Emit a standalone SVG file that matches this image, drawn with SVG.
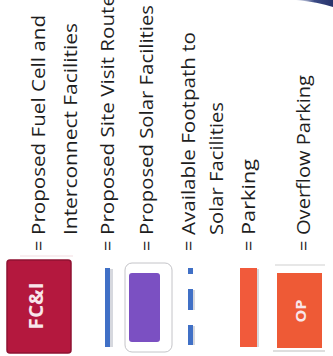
<svg xmlns="http://www.w3.org/2000/svg" width="333" height="356" viewBox="0 0 333 356">
<defs>
<style>
.lbl{font-family:"Open Sans","Liberation Sans",sans-serif;font-size:18px;fill:#1e1e1e}
.sym{font-family:"Open Sans","Liberation Sans",sans-serif;font-weight:bold;fill:#f8e6ea;text-anchor:middle}
.blue{fill:#4070c6}
.shadow{fill:#d6d8de}
.frame{fill:none;stroke:#c4c4c8;stroke-width:1}
</style>
<linearGradient id="navy" x1="0" y1="0" x2="1" y2="0">
<stop offset="0" stop-color="#9aa6c8" stop-opacity="0.3"/>
<stop offset="0.5" stop-color="#3b4a85"/>
<stop offset="1" stop-color="#27336a"/>
</linearGradient>
</defs>
<rect width="333" height="356" fill="#ffffff"/>
<path d="M296,0 Q318,2 333,7 L333,0 Z" fill="url(#navy)"/>

<g id="fci">
<line x1="20" y1="256" x2="73" y2="256" stroke="#f2dde1" stroke-width="1"/>
<rect x="7" y="260" width="64" height="93" rx="3" fill="#b4183e" stroke="#8f1232" stroke-width="1.5"/>
<text class="sym" font-size="19" transform="translate(43,306) rotate(-90)" textLength="47" lengthAdjust="spacingAndGlyphs">FC&amp;I</text>
<text class="lbl" transform="translate(45,251) rotate(-90)">=</text>
<text class="lbl" transform="translate(45,235) rotate(-90)" textLength="220" lengthAdjust="spacingAndGlyphs">Proposed Fuel Cell and</text>
<text class="lbl" transform="translate(77,235) rotate(-90)" textLength="212" lengthAdjust="spacingAndGlyphs">Interconnect Facilities</text>
</g>

<g id="site-visit-route">
<rect class="shadow" x="110" y="269" width="3" height="78"/>
<rect class="blue" x="105" y="268" width="5" height="79"/>
<text class="lbl" transform="translate(114,251) rotate(-90)">=</text>
<text class="lbl" transform="translate(114,235) rotate(-90)" textLength="240" lengthAdjust="spacingAndGlyphs">Proposed Site Visit Route</text>
</g>

<g id="solar-facilities">
<rect class="frame" x="125" y="263" width="47" height="89" rx="7"/>
<rect x="129" y="273" width="31" height="69" rx="3" fill="#7b50c2"/>
<text class="lbl" transform="translate(153,251) rotate(-90)">=</text>
<text class="lbl" transform="translate(153,235) rotate(-90)" textLength="230" lengthAdjust="spacingAndGlyphs">Proposed Solar Facilities</text>
</g>

<g id="footpath">
<rect class="shadow" x="193" y="290" width="2" height="20"/>
<rect class="shadow" x="193" y="326" width="2" height="19"/>
<rect class="blue" x="188" y="268" width="5" height="6"/>
<rect class="blue" x="188" y="289" width="5" height="21"/>
<rect class="blue" x="188" y="325" width="5" height="20"/>
<text class="lbl" transform="translate(195,251) rotate(-90)">=</text>
<text class="lbl" transform="translate(195,235) rotate(-90)" textLength="203" lengthAdjust="spacingAndGlyphs">Available Footpath to</text>
<text class="lbl" transform="translate(223,235) rotate(-90)" textLength="133" lengthAdjust="spacingAndGlyphs">Solar Facilities</text>
</g>

<g id="parking">
<rect class="shadow" x="257" y="269" width="2" height="78"/>
<rect x="240" y="268" width="17" height="79" fill="#f15a3b"/>
<text class="lbl" transform="translate(255,251) rotate(-90)">=</text>
<text class="lbl" transform="translate(255,235) rotate(-90)" textLength="76" lengthAdjust="spacingAndGlyphs">Parking</text>
</g>

<g id="overflow-parking">
<line x1="275" y1="265" x2="325" y2="265" stroke="#cfcfcf" stroke-width="1"/>
<line x1="273" y1="351" x2="325" y2="351" stroke="#bdbdbd" stroke-width="1"/>
<rect x="277" y="273" width="45" height="75" fill="#ee5a36"/>
<text class="sym" font-size="15" transform="translate(306,311) rotate(-90)" textLength="23" lengthAdjust="spacingAndGlyphs">OP</text>
<text class="lbl" transform="translate(310,251) rotate(-90)">=</text>
<text class="lbl" transform="translate(310,235) rotate(-90)" textLength="160" lengthAdjust="spacingAndGlyphs">Overflow Parking</text>
</g>

<g id="connectors"/>
</svg>
